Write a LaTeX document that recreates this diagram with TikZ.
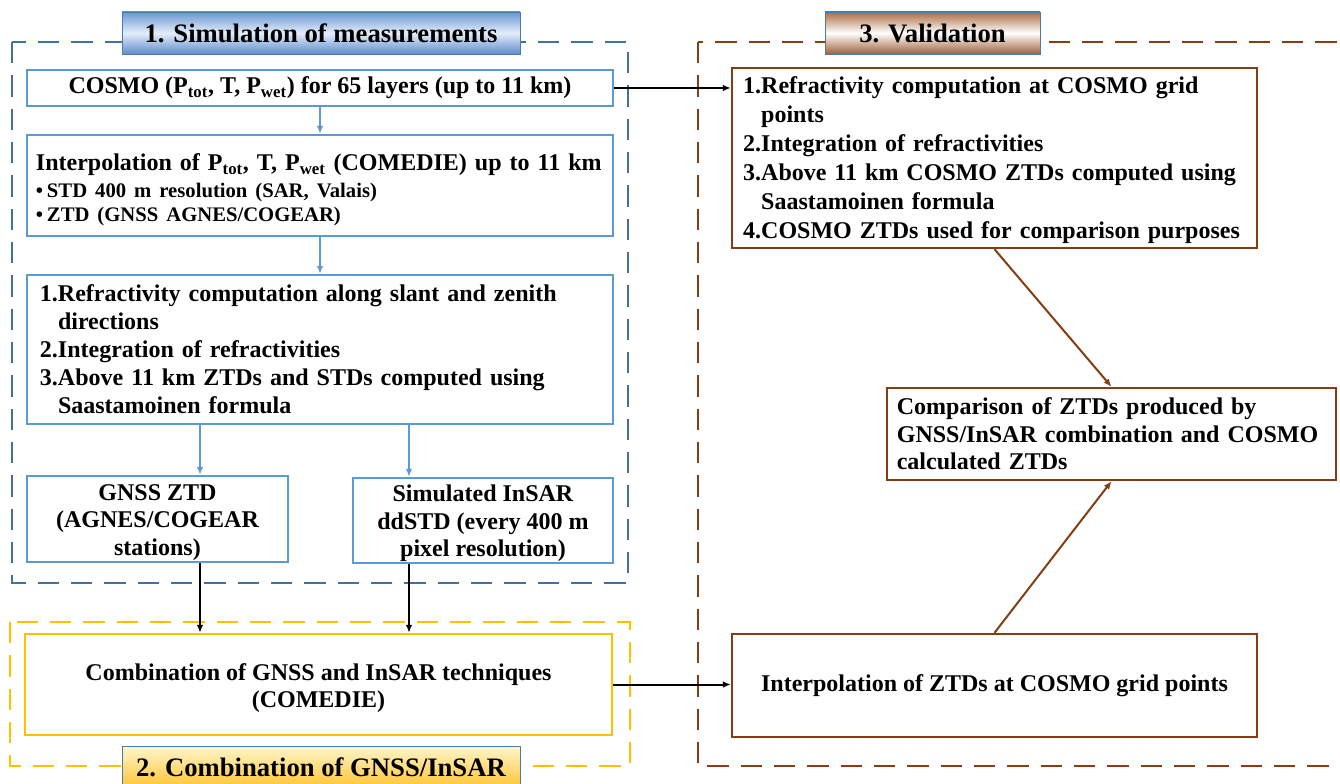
\documentclass[tikz,border=0pt]{standalone}
\usepackage{fontspec}
\setmainfont{Liberation Serif}
\usepackage{tikz}
\usetikzlibrary{arrows.meta}
\definecolor{regionblue}{RGB}{65,113,156}
\definecolor{boxblue}{RGB}{91,155,213}
\definecolor{regionyellow}{RGB}{255,192,0}
\definecolor{boxbrown}{RGB}{133,62,20}
\newcommand{\enumlabel}[1]{\makebox[13.5pt][l]{#1}}
\newcommand{\enumindent}{\hspace*{13.5pt}}
\newcommand{\bulletlabel}{\makebox[8.25pt][l]{\textbullet}}

\begin{document}
\begin{tikzpicture}[x=0.75pt,y=-0.75pt,>={Latex[length=6pt,width=5pt]},
	region/.style={line width=2.2pt,dash pattern=on 16pt off 9pt},
	textbody/.style={font=\bfseries\fontsize{18}{20.6}\selectfont},
	bluebox/.style={textbody,draw=boxblue,line width=1.8pt,fill=white},
	yellowbox/.style={textbody,draw=regionyellow,line width=1.8pt,fill=white},
	brownbox/.style={textbody,draw=boxbrown,line width=1.8pt,fill=white},
	titlebox/.style={draw=boxblue!80!black,line width=0.6pt,minimum height=31.5pt,
		font=\bfseries\fontsize{20}{24}\selectfont},
	bluearrow/.style={->,draw=boxblue,line width=1.5pt},
	blackarrow/.style={->,line width=1.5pt},
	brownarrow/.style={->,draw=boxbrown,line width=1.5pt}]
	\useasboundingbox (0,0) rectangle (1340,784);
	\clip (0,0) rectangle (1340,784);
	%the three dashed regions
	\draw [region,draw=regionblue] (12,42) rectangle (628,583);
	\draw [region,draw=regionyellow] (10,622) rectangle (630,766);
	\draw [region,draw=boxbrown] (698,42) rectangle (1360,766);
	\node [titlebox,minimum width=298.5pt,top color={rgb,255:red,105;green,150;blue,212},
		bottom color={rgb,255:red,95;green,140;blue,205},middle color={rgb,255:red,228;green,237;blue,250}]
		(title1) at (321,33) {1. Simulation of measurements};
	\node [titlebox,minimum width=161.25pt,top color={rgb,255:red,172;green,108;blue,68},
		bottom color={rgb,255:red,160;green,96;blue,56},middle color=white]
		(title3) at (932.5,33) {3. Validation};
	\node [titlebox,minimum width=298.5pt,top color={rgb,255:red,255;green,246;blue,205},
		bottom color={rgb,255:red,255;green,196;blue,50}]
		(title2) at (321,767) {2. Combination of GNSS/InSAR};
	%simulation of measurements
	\node [bluebox,minimum width=439.5pt,minimum height=27pt] (cosmo) at (320,88)
		{COSMO (P\textsubscript{tot}, T, P\textsubscript{wet}) for 65 layers (up to 11 km)};
	\node [bluebox,minimum width=439.5pt,minimum height=75.75pt,text width=426pt,
		inner xsep=6.75pt,align=left] (interp) at (320,185.5)
		{\rule{0pt}{19pt}Interpolation of P\textsubscript{tot}, T, P\textsubscript{wet} (COMEDIE) up to 11 km\par
		\vspace{3pt}
		{\fontsize{15.5}{17.5}\selectfont \bulletlabel STD 400 m resolution (SAR, Valais)\par
		\bulletlabel ZTD (GNSS AGNES/COGEAR)\par}};
	\node [bluebox,minimum width=439.5pt,minimum height=111.75pt,text width=420pt,
		inner xsep=9.75pt,align=left,font=\bfseries\fontsize{18}{21}\selectfont] (refrac) at (320,349.5)
		{\enumlabel{1.}Refractivity computation along slant and zenith\\
		\enumindent directions\\
		\enumlabel{2.}Integration of refractivities\\
		\enumlabel{3.}Above 11 km ZTDs and STDs computed using\\
		\enumindent Saastamoinen formula};
	\node [bluebox,minimum width=195.75pt,minimum height=64.5pt,inner ysep=0pt,align=center] (gnss) at (157.5,519)
		{\rule{0pt}{17pt}GNSS ZTD\\(AGNES/COGEAR\\stations)};
	\node [bluebox,minimum width=195pt,minimum height=63.75pt,inner ysep=0pt,align=center] (insar) at (483,520.5)
		{\rule{0pt}{17pt}Simulated InSAR\\ddSTD (every 400 m\\pixel resolution)};
	\coordinate (gnssin) at (200,0);
	\coordinate (insarin) at (409,0);
	\draw [bluearrow] (cosmo) -- (interp);
	\draw [bluearrow] (interp) -- (refrac);
	\draw [bluearrow] (refrac.south -| gnssin) -- (gnss.north -| gnssin);
	\draw [bluearrow] (refrac.south -| insarin) -- (insar.north -| insarin);
	%combination
	\node [yellowbox,minimum width=440.25pt,minimum height=75.75pt,align=center] (comb) at (318.5,684.5)
		{\rule{0pt}{18pt}Combination of GNSS and InSAR techniques\\(COMEDIE)};
	\draw [blackarrow] (gnss.south -| gnssin) -- (comb.north -| gnssin);
	\draw [blackarrow] (insar.south -| insarin) -- (comb.north -| insarin);
	%validation
	\node [brownbox,minimum width=393.75pt,minimum height=135pt,text width=377pt,
		inner xsep=8.4pt,inner ysep=0pt,align=left,font=\bfseries\fontsize{18}{21.8}\selectfont] (valid) at (994.5,158)
		{\rule{0pt}{16pt}\enumlabel{1.}Refractivity computation at COSMO grid\\
		\enumindent points\\
		\enumlabel{2.}Integration of refractivities\\
		\enumlabel{3.}Above 11 km COSMO ZTDs computed using\\
		\enumindent Saastamoinen formula\\
		\enumlabel{4.}COSMO ZTDs used for comparison purposes};
	\node [brownbox,minimum width=336.75pt,minimum height=69pt,text width=322pt,
		inner xsep=7.4pt,align=left] (compare) at (1111.5,434)
		{Comparison of ZTDs produced by\\
		GNSS/InSAR combination and COSMO\\
		calculated ZTDs};
	\node [brownbox,minimum width=393.75pt,minimum height=77.25pt] (ztdint) at (994.5,685.5)
		{Interpolation of ZTDs at COSMO grid points};
	\draw [blackarrow] (cosmo.east) -- (cosmo.east -| valid.west);
	\draw [blackarrow] (comb.east) -- (comb.east -| ztdint.west);
	\draw [brownarrow] (valid.south) -- (compare.north);
	\draw [brownarrow] (ztdint.north) -- (compare.south);
\end{tikzpicture}
\end{document}
